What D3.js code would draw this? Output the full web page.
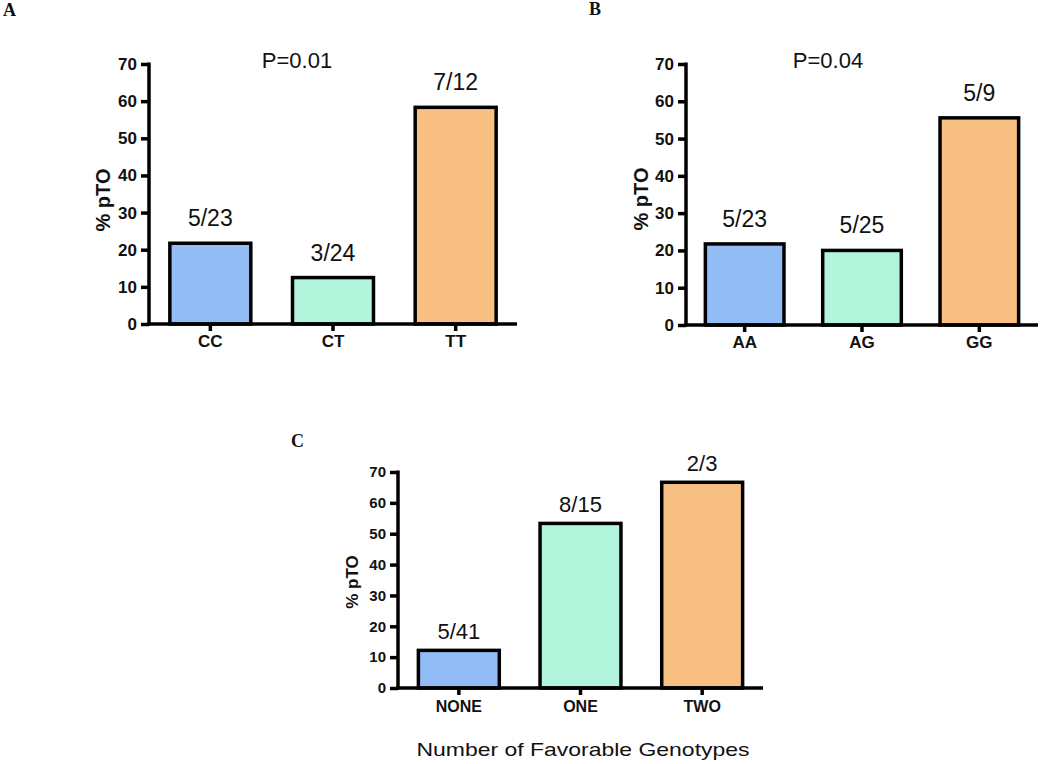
<!DOCTYPE html>
<html>
<head>
<meta charset="utf-8">
<script src="https://cdn.jsdelivr.net/npm/d3@7"></script>
<style>
  html, body { margin: 0; padding: 0; background: #fff; }
  svg { display: block; }
</style>
</head>
<body>
<svg id="chart" width="1050" height="764"></svg>
<script>
// ---- Data ----
const categoriesA = ["CC", "CT", "TT"];
const countsA = ["5/23", "3/24", "7/12"];
const valuesA = [5 / 23 * 100, 3 / 24 * 100, 7 / 12 * 100];

const categoriesB = ["AA", "AG", "GG"];
const countsB = ["5/23", "5/25", "5/9"];
const valuesB = [5 / 23 * 100, 5 / 25 * 100, 5 / 9 * 100];

const categoriesC = ["NONE", "ONE", "TWO"];
const countsC = ["5/41", "8/15", "2/3"];
const valuesC = [5 / 41 * 100, 8 / 15 * 100, 2 / 3 * 100];

const yTicks = [0, 10, 20, 30, 40, 50, 60, 70];
const barColors = ["#91bcf5", "#b3f5dc", "#f8c183"];
const yLabel = "% pTO";

const svg = d3.select("#chart");
const sans = "'Liberation Sans', Arial, sans-serif";
const serif = "'Liberation Serif', 'Times New Roman', serif";

function panel(cfg) {
  const g = svg.append("g");
  const x = d3.scaleBand().domain(cfg.categories)
    .range([cfg.x0, cfg.x1]).paddingInner(cfg.pad).paddingOuter(cfg.pad / 2);
  const y = d3.scaleLinear().domain([0, 70]).range([cfg.y0, cfg.y1]);
  const sw = 3.5;

  // bars
  g.selectAll("rect.bar").data(cfg.values).enter().append("rect")
    .attr("x", (d, i) => x(cfg.categories[i]))
    .attr("y", d => y(d))
    .attr("width", x.bandwidth())
    .attr("height", d => y(0) - y(d))
    .attr("fill", (d, i) => barColors[i])
    .attr("stroke", "#000")
    .attr("stroke-width", sw);

  // y axis
  const yAxis = d3.axisLeft(y).tickValues(yTicks).tickSize(8).tickPadding(4).tickSizeOuter(0);
  const ya = g.append("g").attr("transform", `translate(${cfg.x0},0)`).call(yAxis);
  ya.select(".domain").attr("stroke", "#000").attr("stroke-width", sw)
    .attr("d", `M0,${cfg.y0 + 1.5}V${cfg.y1 - 1.5}`);
  ya.selectAll(".tick line").attr("stroke", "#000").attr("stroke-width", sw);
  ya.selectAll(".tick text").attr("font-family", sans).attr("font-weight", "bold")
    .attr("font-size", cfg.tickFont).attr("fill", "#111");

  // x axis
  const xAxis = d3.axisBottom(x).tickSize(7).tickPadding(cfg.xPad).tickSizeOuter(0);
  const xa = g.append("g").attr("transform", `translate(0,${cfg.y0})`).call(xAxis);
  xa.select(".domain").attr("stroke", "#000").attr("stroke-width", sw)
    .attr("d", `M${cfg.x0 - 1.75},0H${cfg.x1}`);
  xa.selectAll(".tick line").attr("stroke", "#000").attr("stroke-width", sw);
  xa.selectAll(".tick text").attr("font-family", sans).attr("font-weight", "bold")
    .attr("font-size", cfg.catFont).attr("fill", "#111");

  // bar count labels
  g.selectAll("text.cnt").data(cfg.values).enter().append("text")
    .attr("x", (d, i) => x(cfg.categories[i]) + x.bandwidth() / 2)
    .attr("y", d => y(d) - cfg.labelGap)
    .attr("text-anchor", "middle")
    .attr("font-family", sans).attr("font-size", cfg.labelFont).attr("fill", "#111")
    .text((d, i) => cfg.counts[i]);

  // y label
  g.append("text")
    .attr("transform", `translate(${cfg.yLabX},${cfg.yLabY}) rotate(-90)`)
    .attr("text-anchor", "middle")
    .attr("font-family", sans).attr("font-weight", "bold").attr("font-size", cfg.yLabFont)
    .attr("fill", "#111").text(yLabel);

  // p value
  if (cfg.pText) {
    g.append("text").attr("x", cfg.pX).attr("y", cfg.pY).attr("text-anchor", "middle")
      .attr("font-family", sans).attr("font-size", 22).attr("fill", "#111").text(cfg.pText);
  }
  // panel letter
  g.append("text").attr("x", cfg.letterX).attr("y", cfg.letterY)
    .attr("font-family", serif).attr("font-weight", "bold").attr("font-size", 18)
    .attr("fill", "#111").text(cfg.letter);
  return g;
}

panel({
  categories: categoriesA, values: valuesA, counts: countsA,
  x0: 149, x1: 517, y0: 324, y1: 64, pad: 0.34,
  tickFont: 17, catFont: 17, xPad: 4, labelFont: 23, labelGap: 17,
  yLabX: 110, yLabY: 200, yLabFont: 20, pText: "P=0.01", pX: 297, pY: 68,
  letter: "A", letterX: 3, letterY: 16
});

panel({
  categories: categoriesB, values: valuesB, counts: countsB,
  x0: 686, x1: 1038, y0: 325, y1: 64, pad: 0.33,
  tickFont: 17, catFont: 17, xPad: 4, labelFont: 23, labelGap: 17,
  yLabX: 648, yLabY: 199, yLabFont: 20, pText: "P=0.04", pX: 828, pY: 68,
  letter: "B", letterX: 589, letterY: 15
});

const gC = panel({
  categories: categoriesC, values: valuesC, counts: countsC,
  x0: 398, x1: 763, y0: 688, y1: 472, pad: 0.335,
  tickFont: 15, catFont: 16, xPad: 6, labelFont: 22, labelGap: 11,
  yLabX: 358, yLabY: 582, yLabFont: 17, pText: null,
  letter: "C", letterX: 291, letterY: 447
});

gC.append("text").attr("x", 583).attr("y", 756).attr("text-anchor", "middle")
  .attr("font-family", sans).attr("font-size", 19).attr("fill", "#111")
  .attr("textLength", 333).attr("lengthAdjust", "spacingAndGlyphs")
  .text("Number of Favorable Genotypes");
</script>
</body>
</html>
